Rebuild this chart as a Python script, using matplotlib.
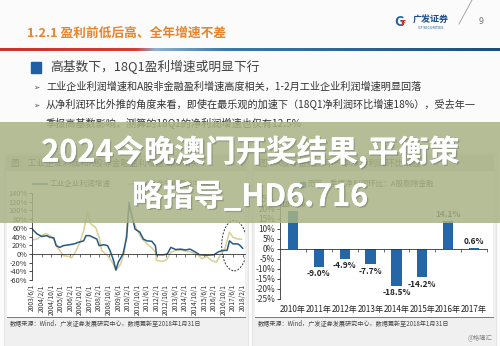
import numpy as np
import matplotlib.pyplot as plt
import matplotlib.patheffects as pe
from matplotlib.patches import Rectangle, Ellipse
from matplotlib.lines import Line2D
from matplotlib.colors import LinearSegmentedColormap

plt.rcParams['font.family'] = ['Noto Sans CJK SC', 'DejaVu Sans']
plt.rcParams['axes.unicode_minus'] = False

# left chart: industrial profit growth vs A-share non-financial profit growth (%)
profit_dates = ['2003/6', '2003/10', '2004/2', '2004/6', '2004/9', '2004/12', '2005/2', '2005/5',
                '2005/8', '2006/1', '2006/5', '2006/9', '2007/1', '2007/3', '2007/6', '2007/9',
                '2007/12', '2008/2', '2008/6', '2008/9', '2008/11', '2009/2', '2009/4', '2009/6',
                '2009/10', '2010/1', '2010/3', '2010/5', '2010/8', '2010/12', '2011/3', '2011/6',
                '2011/10', '2012/1', '2012/2', '2012/8', '2012/11', '2013/2', '2013/6', '2013/10',
                '2014/2', '2014/6', '2014/10', '2015/2', '2015/8', '2016/2', '2016/6', '2016/10',
                '2017/1', '2017/3', '2017/6', '2017/10', '2017/12', '2018/2']
profit_growth = [57, 46, 40, 42, 38, 37, 19, 15,
                 19, 21, 23, 27, 30, 42, 42, 38,
                 34, 19, 21, 19, 8, -15, -37, -19,
                 0, 38, 118, 92, 57, 50, 34, 30,
                 29, 19, -2, -2, 0, 15, 10, 11,
                 9, 11, 5, -2, -3, -2, 5, 8,
                 8, 30, 23, 23, 19, 13]

ashare_dates = ['2003/6', '2003/10', '2004/2', '2004/5', '2004/9', '2004/12', '2005/3', '2005/6',
                '2005/8', '2006/1', '2006/3', '2006/6', '2006/10', '2007/1', '2007/4', '2007/7',
                '2007/11', '2008/2', '2008/4', '2008/9', '2009/1', '2009/4', '2009/8', '2009/11',
                '2010/1', '2010/3', '2010/5', '2010/10', '2011/2', '2011/6', '2011/10', '2012/1',
                '2012/2', '2012/8', '2012/11', '2013/2', '2013/6', '2013/11', '2014/3', '2014/7',
                '2015/1', '2015/4', '2015/8', '2015/12', '2016/4', '2016/7', '2016/11', '2017/3',
                '2017/6', '2017/10', '2018/1']
ashare_growth = [32, 34, 42, 47, 42, 34, 15, 4,
                 -4, -6, -9, 4, 27, 53, 95, 69,
                 61, 38, 8, -4, -19, -38, -23, 4,
                 53, 111, 84, 53, 34, 23, 14, 4,
                 -15, -17, -11, 4, 8, 9, 6, 4,
                 -4, -11, -6, -15, -19, -4, 11, 50,
                 38, 34, 34]

tick_labels = ['2003/6/1', '2004/2/1', '2004/10/1', '2005/6/1', '2006/2/1', '2006/10/1',
               '2007/6/1', '2008/2/1', '2008/10/1', '2009/6/1', '2010/2/1', '2010/10/1',
               '2011/6/1', '2012/2/1', '2012/10/1', '2013/6/1', '2014/2/1', '2014/10/1',
               '2015/6/1', '2016/2/1', '2016/10/1', '2017/6/1', '2018/2/1']

# right chart: Q1 net profit QoQ growth, A-share ex-financials (%)
years = ['2010年', '2011年', '2012年', '2013年', '2014年', '2015年', '2016年', '2017年']
q1_qoq = [18.8, -9.0, -4.9, -7.7, -18.5, -14.2, 14.1, 0.6]


def month_idx(s):
    y, m = s.split('/')[:2]
    return (int(y) - 2003) * 12 + int(m) - 6


W, H = 500, 346


def fx(x):
    return x / W


def fy(y):
    return 1 - y / H


fig = plt.figure(figsize=(5, 3.46), dpi=100)
fig.patch.set_facecolor('#fbfbfb')

# ---- header ----
fig.text(fx(27), fy(33), '1.2.1 盈利前低后高、全年增速不差', color='#e8842a',
         fontsize=9.2, fontweight='bold', va='center')
fig.text(fx(399), fy(22), 'G', color='#1f5fa6', fontsize=10, fontweight='bold',
         va='center', ha='center')
fig.text(fx(403), fy(23), 'F', color='#d8322a', fontsize=6, fontweight='bold',
         va='center', ha='center')
fig.text(fx(431), fy(19), '广发证券', color='#1f4e8c', fontsize=6.5, fontweight='bold',
         va='center', ha='center')
fig.text(fx(431), fy(28), 'GF SECURITIES', color='#1f4e8c', fontsize=2.6,
         va='center', ha='center')
fig.add_artist(Line2D([fx(459), fx(472)], [fy(24), fy(0)], color='#9a9a9a', lw=0.6))
fig.text(fx(481), fy(22), '9', color='#777777', fontsize=6.5, va='center', ha='center')

# gradient rule under the header
gax = fig.add_axes([0, fy(51), 1, 3 / H])
cmap = LinearSegmentedColormap.from_list(
    'rule', [(0, '#c9342c'), (0.27, '#d83a2e'), (0.31, '#8fb0d0'), (0.45, '#3d78b0'),
             (1, '#1c4d80')])
gax.imshow(np.linspace(0, 1, 256)[None, :], aspect='auto', cmap=cmap)
gax.axis('off')

# ---- bullet text ----
fig.add_artist(Rectangle((fx(31), fy(73)), 10 / W, 11 / H, transform=fig.transFigure,
                         color='#1f5fa6'))
fig.text(fx(50), fy(67), '高基数下，18Q1盈利增速或明显下行', color='#404040',
         fontsize=9.2, va='center')
bullets = ['工业企业利润增速和A股非金融盈利增速高度相关，1-2月工业企业利润增速明显回落',
           '从净利润环比外推的角度来看，即使在最乐观的加速下（18Q1净利润环比增速18%），受去年一']
for i, b in enumerate(bullets):
    yy = 87 + i * 18
    fig.text(fx(33), fy(yy), '➢', color='#555555', fontsize=5.5, va='center',
             family='DejaVu Sans')
    fig.text(fx(46), fy(yy), b, color='#333333', fontsize=7.3, va='center')
fig.text(fx(46), fy(124), '季报高基数影响，测算的18Q1的净利润增速也仅有12.5%', color='#333333',
         fontsize=7.3, va='center')

# ---- panels (kept behind the chart axes) ----
for x0, x1 in [(4, 248), (252, 496)]:
    fig.add_artist(Rectangle((fx(x0), fy(346)), (x1 - x0) / W, (346 - 153) / H,
                             transform=fig.transFigure, facecolor='#f0f0f0',
                             edgecolor='#dddddd', lw=0.5, zorder=-3))
    fig.add_artist(Rectangle((fx(x0 + 3), fy(317)), (x1 - x0 - 6) / W, (317 - 171) / H,
                             transform=fig.transFigure, facecolor='white', lw=0, zorder=-2))
    fig.add_artist(Rectangle((fx(x0 + 2), fy(171)), (x1 - x0 - 4) / W, 16 / H,
                             transform=fig.transFigure, facecolor='#d9d9d9', lw=0, zorder=-2))
    fig.add_artist(Line2D([fx(x0 + 3), fx(x1 - 3)], [fy(317), fy(317)], color='#3b6fa0',
                          lw=0.6, zorder=-1))
    fig.text(fx(x0 + 6), fy(324), '数据来源：Wind，广发证券发展研究中心，数据更新至2018年1月31日',
             fontsize=4.4, color='#444444', va='center')

fig.text(fx(10), fy(163), '图：工业企业利润和A股非金融盈利增速高度相关', fontsize=6.3,
         color='#333333', va='center')
fig.text(fx(258), fy(163), '图：A股非金融历年一季度净利润环比增速', fontsize=6.3,
         color='#333333', va='center')

# ---- left chart ----
blue = '#235a86'
khaki = '#d9cf94'
ax1 = fig.add_axes([fx(32), fy(280), (245 - 32) / W, (280 - 193) / H])
ax1.set_zorder(5)
ax1.set_facecolor('none')
ax1.plot([month_idx(d) for d in ashare_dates], ashare_growth, color=khaki, lw=1.1)
ax1.plot([month_idx(d) for d in profit_dates], profit_growth, color=blue, lw=1.1)
ax1.set_xlim(-0.2, 178)
ax1.set_ylim(-60, 140)
ax1.set_yticks(np.arange(-60, 141, 20))
ax1.set_yticklabels([f'{v}%' for v in range(-60, 141, 20)], fontsize=5.3, color='#333333')
ax1.tick_params(axis='y', length=2, width=0.5, pad=1.5)
ticks = [month_idx(t) for t in tick_labels]
ax1.set_xticks(ticks)
ax1.set_xticklabels([])
ax1.tick_params(axis='x', length=2, width=0.5, direction='out', color='#333333')
ax1.spines['bottom'].set_position(('data', 0))
for s in ['top', 'right']:
    ax1.spines[s].set_visible(False)
for s in ['bottom', 'left']:
    ax1.spines[s].set_linewidth(0.6)
    ax1.spines[s].set_color('#333333')
sec1 = ax1.secondary_xaxis(0.0)
sec1.set_xticks(ticks)
sec1.set_xticklabels(tick_labels, rotation=90, fontsize=4.8, color='#333333')
sec1.tick_params(length=0, pad=3)
sec1.spines['bottom'].set_visible(False)
ax1.add_patch(Ellipse((month_idx('2017/7'), 19), 21, 116, fill=False, ls=(0, (2, 1.5)),
                      lw=0.7, color='#333333'))

fig.add_artist(Line2D([fx(33), fx(47)], [fy(184), fy(184)], color=blue, lw=1.1))
fig.text(fx(50), fy(184), '工业企业利润增速', fontsize=5.5, color='#333333', va='center')
fig.add_artist(Line2D([fx(128), fx(142)], [fy(184), fy(184)], color=khaki, lw=1.1))
fig.text(fx(145), fy(184), 'A股非金融盈利增速', fontsize=5.5, color='#333333', va='center')

# ---- right chart ----
ax2 = fig.add_axes([fx(280), fy(299), (487 - 280) / W, 100 / H])
ax2.set_zorder(5)
ax2.set_facecolor('none')
xpos = np.arange(len(years))
ax2.bar(xpos, q1_qoq, width=0.4, color='#2567a6')
for x, v in zip(xpos, q1_qoq):
    ax2.text(x, v + (1 if v >= 0 else -1.2), f'{v:.1f}%', ha='center',
             va='bottom' if v >= 0 else 'top', fontsize=6, fontweight='bold',
             color='#222222')
ax2.set_xlim(-0.5, 7.25)
ax2.set_ylim(-25, 25)
ax2.set_yticks(np.arange(-25, 26, 5))
ax2.set_yticklabels([f'{v}%' for v in range(-25, 26, 5)], fontsize=6, color='#333333')
ax2.tick_params(axis='y', length=2, width=0.5, pad=1.5)
ax2.set_xticks(xpos + 0.5)
ax2.set_xticklabels([])
ax2.tick_params(axis='x', length=2, width=0.5, color='#333333')
ax2.spines['bottom'].set_position(('data', 0))
for s in ['top', 'right']:
    ax2.spines[s].set_visible(False)
for s in ['bottom', 'left']:
    ax2.spines[s].set_linewidth(0.6)
    ax2.spines[s].set_color('#333333')
sec2 = ax2.secondary_xaxis(0.0)
sec2.set_xticks(xpos)
sec2.set_xticklabels(years, fontsize=5.8, color='#222222')
sec2.tick_params(length=0, pad=4)
sec2.spines['bottom'].set_visible(False)

fig.add_artist(Rectangle((fx(300), fy(187)), 5 / W, 5 / H, transform=fig.transFigure,
                         color='#2567a6'))
fig.text(fx(308), fy(184), '历年一季度净利润环比：A股剔除金融', fontsize=5.5,
         color='#333333', va='center')

fig.text(fx(492), fy(338), '@格隆汇', fontsize=4.5, color='#888888', ha='right',
         va='center')

# ---- overlay band ----
fig.add_artist(Rectangle((0, fy(223)), 1, 101 / H, transform=fig.transFigure,
                         facecolor='#a9b386', alpha=0.85, lw=0, zorder=20))
shadow = [pe.withSimplePatchShadow(offset=(1, -1), shadow_rgbFace='#555555', alpha=0.35),
          pe.Normal()]
fig.text(0.5, fy(152), '2024今晚澳门开奖结果,平衡策', fontsize=22, fontweight='bold',
         color='white', ha='center', va='center', zorder=21, path_effects=shadow)
fig.text(0.5, fy(197), '略指导_HD6.716', fontsize=22, fontweight='bold',
         color='white', ha='center', va='center', zorder=21, path_effects=shadow)

fig.savefig('out.png', dpi=100)
